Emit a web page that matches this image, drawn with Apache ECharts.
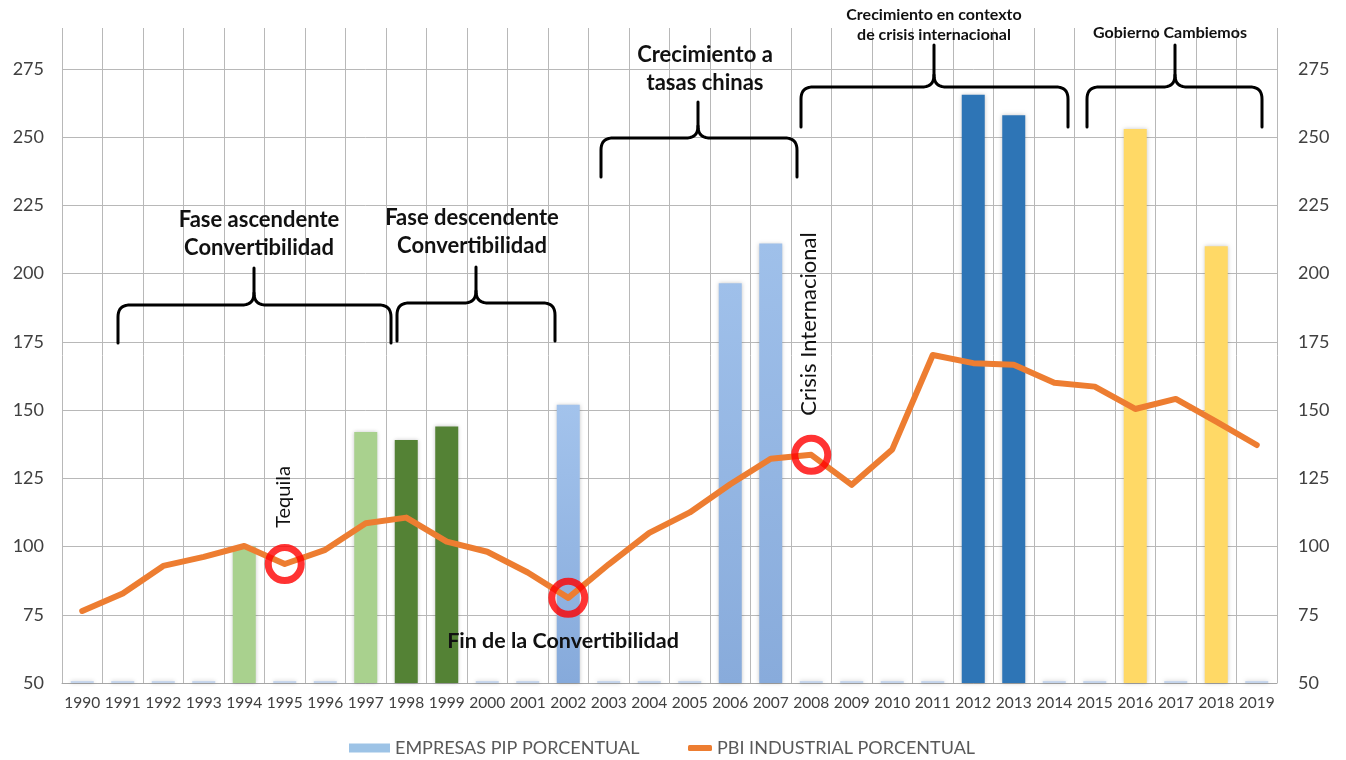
<!DOCTYPE html>
<html>
<head>
<meta charset="utf-8">
<script src="https://cdn.jsdelivr.net/npm/echarts@6/dist/echarts.min.js"></script>
<style>
  html, body { margin: 0; padding: 0; background: #fff; }
  #chart { width: 1346px; height: 760px; }
</style>
</head>
<body>
<div id="chart"></div>
<script>
// Años del eje horizontal
const years = ['1990','1991','1992','1993','1994','1995','1996','1997','1998','1999',
               '2000','2001','2002','2003','2004','2005','2006','2007','2008','2009',
               '2010','2011','2012','2013','2014','2015','2016','2017','2018','2019'];

// Empresas PIP (índice porcentual); 50.7 = años sin dato destacado (barra mínima)
const empresasPip = [50.7, 50.7, 50.7, 50.7, 100, 50.7, 50.7, 142, 139, 144,
                     50.7, 50.7, 152, 50.7, 50.7, 50.7, 196.5, 211, 50.7, 50.7,
                     50.7, 50.7, 265.5, 258, 50.7, 50.7, 253, 50.7, 210, 50.7];

// PBI industrial (índice porcentual)
const pbiIndustrial = [76.4, 82.8, 92.9, 96.2, 100.2, 93.6, 98.8, 108.5, 110.6, 101.8,
                       98.1, 90.5, 81.2, 93.5, 105, 112.5, 122.8, 132.2, 133.6, 122.6,
                       135.6, 170.2, 167.2, 166.6, 160, 158.6, 150.4, 154.1, 145.8, 137.2];

// Años marcados con un círculo rojo sobre la curva
const eventYears = ['1995', '2002', '2008'];

// Ticks del eje de valores
const yMin = 50, yMax = 290, yStep = 25;

// Colores de barra según la etapa
function vgrad(top, bottom) {
  return new echarts.graphic.LinearGradient(0, 0, 0, 1, [
    { offset: 0, color: top }, { offset: 1, color: bottom }
  ]);
}
const barColorByYear = {
  '1994': '#a9d18e', '1997': '#a9d18e',
  '1998': '#548235', '1999': '#548235',
  '2002': vgrad('#a3c3ec', '#86aadb'),
  '2006': vgrad('#9fc0ea', '#88abdb'),
  '2007': vgrad('#9fc0ea', '#88abdb'),
  '2012': '#2e75b6', '2013': '#2e75b6',
  '2016': '#ffd966', '2018': '#ffd966'
};
const stubColor = '#c5d5ec';

const chart = echarts.init(document.getElementById('chart'));

const labelFont = 'Lato';
const tickText = { color: '#404040', fontFamily: labelFont };

// Curva cuadrática muestreada como puntos de polilínea
function quad(p0, c, p1, n) {
  const pts = [];
  for (let k = 1; k <= n; k++) {
    const t = k / n, u = 1 - t;
    pts.push([u * u * p0[0] + 2 * u * t * c[0] + t * t * p1[0],
              u * u * p0[1] + 2 * u * t * c[1] + t * t * p1[1]]);
  }
  return pts;
}

// Llave horizontal: extremos abajo, punta hacia arriba en xm
function braceEls(x0, x1, xm, yb, yh, yt) {
  const r = 12, n = 10;
  const left = [[x0, yb], [x0, yh + r]]
    .concat(quad([x0, yh + r], [x0, yh], [x0 + r, yh], n))
    .concat([[xm - r, yh]])
    .concat(quad([xm - r, yh], [xm, yh], [xm, yh - r], n))
    .concat([[xm, yt]]);
  const right = [[xm, yh - r]]
    .concat(quad([xm, yh - r], [xm, yh], [xm + r, yh], n))
    .concat([[x1 - r, yh]])
    .concat(quad([x1 - r, yh], [x1, yh], [x1, yh + r], n))
    .concat([[x1, yb]]);
  const style = { stroke: '#000', lineWidth: 3, fill: null, lineJoin: 'round', lineCap: 'round' };
  return [
    { type: 'polyline', z: 100, shape: { points: left }, style: style },
    { type: 'polyline', z: 100, shape: { points: right }, style: style }
  ];
}

function textEl(text, x, y, size, weight, rot) {
  return {
    type: 'text', z: 100, x: x, y: y, rotation: rot || 0,
    style: {
      text: text, fill: '#111', fontFamily: labelFont, fontSize: size,
      fontWeight: weight || 'bold', align: 'center', verticalAlign: 'middle'
    }
  };
}

const yAxisBase = {
  type: 'value', min: yMin, max: yMax, interval: yStep,
  axisLine: { show: false }, axisTick: { show: false },
  axisLabel: {
    ...tickText, fontSize: 18,
    formatter: v => (v % yStep === 0 ? String(v) : '')
  }
};

const legendText = { color: '#595959', fontFamily: labelFont, fontSize: 18 };

const option = {
  animation: false,
  backgroundColor: '#ffffff',
  grid: { left: 62, right: 69, top: 28, bottom: 77 },
  legend: [
    {
      data: ['EMPRESAS PIP PORCENTUAL'], left: 349, top: 739, padding: 0,
      icon: 'rect', itemWidth: 41, itemHeight: 9,
      textStyle: legendText
    },
    {
      data: ['PBI INDUSTRIAL PORCENTUAL'], left: 688, top: 739, padding: 0,
      icon: 'roundRect', itemWidth: 24, itemHeight: 6,
      textStyle: legendText
    }
  ],
  xAxis: {
    type: 'category', data: years, boundaryGap: true,
    axisTick: { show: false },
    axisLine: { lineStyle: { color: '#a6a6a6', width: 1 } },
    axisLabel: { ...tickText, fontSize: 15.5, margin: 12, interval: 0 },
    splitLine: { show: true, interval: 0, lineStyle: { color: '#b8b8b8', width: 1 } }
  },
  yAxis: [
    {
      ...yAxisBase, position: 'left',
      axisLabel: { ...yAxisBase.axisLabel, margin: 18 },
      splitLine: { show: true, showMaxLine: false, lineStyle: { color: '#b8b8b8', width: 1 } }
    },
    {
      ...yAxisBase, position: 'right',
      axisLabel: { ...yAxisBase.axisLabel, margin: 21 },
      splitLine: { show: false }
    }
  ],
  series: [
    {
      name: 'EMPRESAS PIP PORCENTUAL', type: 'bar', barWidth: 23,
      itemStyle: { color: '#9dc3e6' },
      data: empresasPip.map((v, i) => ({
        value: v,
        itemStyle: {
          color: barColorByYear[years[i]] || stubColor,
          shadowBlur: 4, shadowColor: 'rgba(0,0,0,0.22)'
        }
      })),
      z: 2
    },
    {
      name: 'PBI INDUSTRIAL PORCENTUAL', type: 'line', symbol: 'none',
      data: pbiIndustrial,
      lineStyle: { color: '#ed7d31', width: 6, cap: 'round', join: 'round' },
      itemStyle: { color: '#ed7d31' },
      z: 3
    },
    {
      name: 'eventos', type: 'scatter', symbol: 'circle', symbolSize: 33,
      data: eventYears.map(y => [y, pbiIndustrial[years.indexOf(y)]]),
      itemStyle: { color: 'rgba(0,0,0,0)', borderColor: '#ff0000', borderWidth: 7 },
      z: 4, silent: true
    }
  ],
  graphic: [].concat(
    braceEls(118, 391, 254, 343, 305, 268),
    braceEls(397, 555, 476, 341, 303, 267),
    braceEls(601, 797, 698, 177, 138, 102),
    braceEls(801, 1068, 934, 127, 87, 45),
    braceEls(1087, 1262, 1175, 127, 87, 45),
    [
      textEl('Fase ascendente', 259, 220, 22),
      textEl('Convertibilidad', 259, 248, 22),
      textEl('Fase descendente', 472, 218, 22),
      textEl('Convertibilidad', 472, 246, 22),
      textEl('Crecimiento a', 705, 55, 22),
      textEl('tasas chinas', 705, 83, 22),
      textEl('Crecimiento en contexto', 934, 15, 16),
      textEl('de crisis internacional', 934, 35, 16),
      textEl('Gobierno Cambiemos', 1170, 33, 16),
      textEl('Fin de la Convertibilidad', 563, 641, 21.5),
      textEl('Tequila', 284, 497, 20, 'normal', Math.PI / 2),
      textEl('Crisis Internacional', 809, 324, 22, 'normal', Math.PI / 2)
    ]
  )
};

chart.setOption(option);
</script>
</body>
</html>
